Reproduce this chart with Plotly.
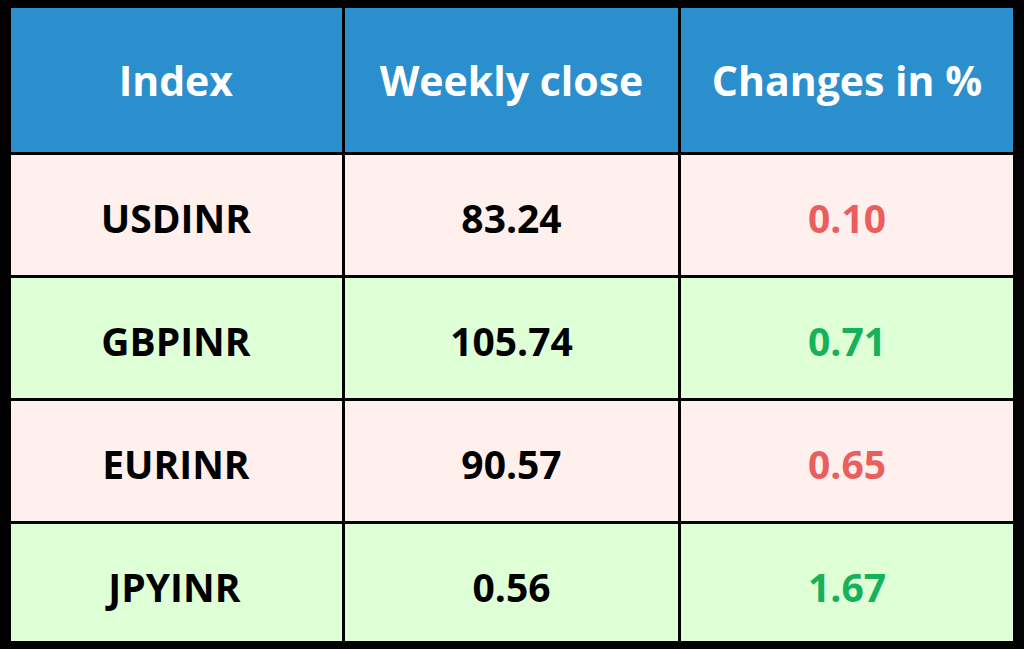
import plotly.graph_objects as go

headers = ["Index", "Weekly close", "Changes in %"]
pairs = ["USDINR", "GBPINR", "EURINR", "JPYINR"]
weekly_close = ["83.24", "105.74", "90.57", "0.56"]
changes = ["0.10", "0.71", "0.65", "1.67"]
direction = ["down", "up", "down", "up"]

row_fill = {"down": "#FFF0EE", "up": "#DFFFD6"}
text_col = {"down": "#EB5E5E", "up": "#16B25A"}

fills = [row_fill[d] for d in direction]
change_colors = [text_col[d] for d in direction]


# plotly tables put text at the top of a cell; a small spacer line pushes it down
def centred(vals, spacer):
    pad = "<span style='font-size:%dpx'>&nbsp;</span><br>" % spacer
    return [pad + "<b>%s</b>" % v for v in vals]


fig = go.Figure(go.Table(
    columnwidth=[335, 338, 335],
    header=dict(
        values=centred(headers, 27),
        fill_color="#2B8FCE",
        line=dict(color="black", width=3),
        align="center",
        font=dict(family="Open Sans", size=41, color="white"),
        height=147,
    ),
    cells=dict(
        values=[centred(pairs, 20), centred(weekly_close, 20), centred(changes, 20)],
        fill_color=[fills, fills, fills],
        line=dict(color="black", width=3),
        align="center",
        font=dict(family="Open Sans", size=39,
                  color=["black", "black", change_colors]),
        height=123,
    ),
))

fig.update_layout(
    width=1024, height=649,
    margin=dict(l=9, r=10, t=6, b=8),
    paper_bgcolor="black",
)

fig.write_html("out.html", config={"displayModeBar": False},
               post_script="document.body.style.margin='0';")
